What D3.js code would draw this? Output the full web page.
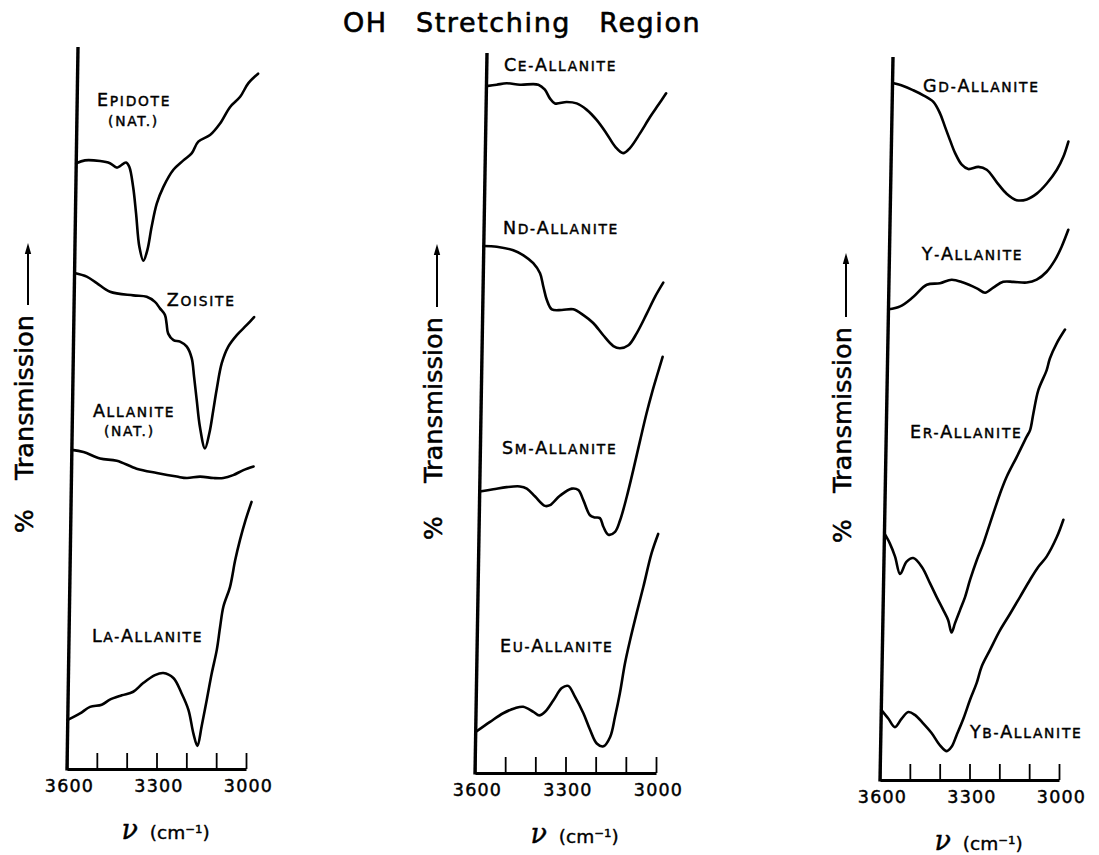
<!DOCTYPE html>
<html>
<head>
<meta charset="utf-8">
<script src="https://cdn.jsdelivr.net/npm/d3@7"></script>
<style>
  html, body { margin: 0; padding: 0; background: #fff; }
  svg { display: block; }
  text { font-family: "DejaVu Sans", sans-serif; fill: #000; }
</style>
</head>
<body>
<svg id="chart" width="1099" height="855"></svg>
<script>
// ---------------------------------------------------------------
// Wavenumber axis (cm-1)
const wavenumberTicks = [3600, 3500, 3400, 3300, 3200, 3100, 3000];
const labelledTicks = [3600, 3300, 3000];
const titleText = "OH Stretching Region";
const yAxisWord = "Transmission";
const xAxisUnit = "(cm\u207B\u00B9)";

// IR spectra: [wavenumber (cm-1), relative % transmission, offset trace]
const epidote = [[3600,83.9],[3571,84.3],[3520,84.2],[3487,83.9],[3464,83.3],[3453,83.5],[3433,84.0],[3422,83.4],[3408,80.6],[3397,77.0],[3384,72.3],[3370,70.4],[3357,71.9],[3344,75.1],[3328,78.3],[3307,80.6],[3274,83.0],[3241,84.3],[3213,85.3],[3192,86.9],[3153,87.8],[3120,89.4],[3087,91.7],[3054,93.1],[3027,95.0],[2995,96.3]];
const zoisite = [[3600,68.7],[3559,68.2],[3525,67.3],[3480,66.1],[3402,65.6],[3357,65.4],[3329,64.7],[3312,63.8],[3295,62.9],[3289,61.7],[3283,60.3],[3265,59.4],[3243,59.2],[3220,58.5],[3203,56.9],[3194,54.3],[3184,51.1],[3172,47.4],[3154,44.4],[3140,46.5],[3128,49.7],[3118,52.5],[3102,56.2],[3081,58.5],[3053,60.1],[3020,61.5],[2996,62.6]];
const allaniteNat = [[3600,44.2],[3561,43.9],[3505,43.0],[3449,42.7],[3382,41.6],[3314,41.0],[3247,40.5],[3213,40.3],[3169,40.5],[3124,40.3],[3091,40.3],[3058,40.7],[3024,41.4],[2990,41.9]];
const laAllanite = [[3600,6.8],[3559,7.7],[3526,8.6],[3487,8.9],[3460,9.6],[3420,10.2],[3382,10.7],[3349,11.9],[3310,13.0],[3282,13.3],[3248,12.6],[3220,10.5],[3196,8.2],[3178,4.9],[3164,3.2],[3151,5.9],[3135,9.6],[3120,13.2],[3104,16.5],[3094,19.7],[3084,22.5],[3063,25.2],[3047,28.9],[3032,31.7],[3014,34.5],[2995,37.0]];

const ceAllanite = [[3600,95.4],[3566,95.6],[3533,95.8],[3489,95.6],[3428,95.6],[3406,94.9],[3389,93.7],[3372,93.0],[3333,93.2],[3300,93.0],[3266,92.1],[3233,90.7],[3199,88.8],[3170,87.0],[3143,86.1],[3121,86.8],[3089,88.8],[3056,91.1],[3029,92.8],[3004,94.4]];
const ndAllanite = [[3600,73.2],[3557,73.1],[3502,72.6],[3468,71.9],[3435,70.8],[3412,69.4],[3400,67.5],[3388,65.7],[3371,64.4],[3338,64.3],[3300,64.4],[3266,63.6],[3233,62.5],[3199,60.8],[3165,59.3],[3143,59.0],[3115,59.4],[3088,61.1],[3056,63.8],[3030,66.1],[3003,68.1]];
const smAllanite = [[3600,39.1],[3555,39.4],[3511,39.7],[3467,39.8],[3444,39.5],[3416,38.4],[3383,37.1],[3366,37.2],[3334,38.5],[3295,39.5],[3273,39.3],[3256,37.9],[3233,35.8],[3217,35.5],[3200,35.4],[3188,34.2],[3171,33.1],[3149,33.5],[3133,35.1],[3112,38.4],[3092,42.1],[3071,46.2],[3051,50.0],[3035,52.7],[3020,55.0],[3001,57.8]];
const euAllanite = [[3600,5.7],[3553,7.1],[3510,8.3],[3471,9.0],[3444,9.2],[3410,8.5],[3390,8.0],[3371,8.5],[3344,10.1],[3317,11.8],[3296,12.1],[3273,10.6],[3244,8.3],[3221,6.0],[3198,4.1],[3176,3.7],[3154,5.0],[3139,7.8],[3124,11.1],[3109,15.2],[3093,18.5],[3073,22.2],[3052,25.9],[3027,30.5],[3006,33.2]];

const gdAllanite = [[3600,96.4],[3564,96.0],[3530,95.4],[3496,94.7],[3462,93.8],[3439,92.2],[3422,90.4],[3404,88.5],[3386,86.7],[3363,85.1],[3341,84.5],[3307,84.8],[3279,84.4],[3245,82.7],[3211,81.1],[3177,80.2],[3143,80.3],[3110,81.1],[3077,82.5],[3044,84.4],[3023,86.2],[3007,88.3]];
const yAllanite = [[3600,65.1],[3561,65.5],[3518,66.8],[3473,68.5],[3429,68.7],[3390,69.2],[3351,68.8],[3305,68.0],[3277,67.4],[3250,68.1],[3217,68.9],[3183,68.9],[3138,68.8],[3105,69.2],[3072,70.3],[3045,71.9],[3023,73.8],[3002,76.1]];
const erAllanite = [[3600,34.1],[3581,32.7],[3563,30.9],[3545,28.5],[3524,30.2],[3502,30.7],[3473,29.5],[3444,27.2],[3421,25.3],[3398,23.5],[3381,22.1],[3369,20.4],[3358,21.7],[3342,23.5],[3326,25.3],[3310,27.7],[3289,30.4],[3268,32.7],[3252,34.8],[3236,36.9],[3215,39.6],[3194,41.9],[3161,44.7],[3129,47.5],[3118,48.4],[3108,50.7],[3093,53.9],[3066,56.7],[3056,58.3],[3034,60.4],[3007,62.3]];
const ybAllanite = [[3600,9.7],[3576,8.5],[3553,7.3],[3531,8.5],[3509,9.4],[3487,9.0],[3458,7.8],[3430,6.5],[3401,4.8],[3378,4.0],[3362,4.6],[3346,6.2],[3324,8.5],[3303,11.1],[3282,13.4],[3266,15.7],[3239,18.0],[3207,20.7],[3174,23.0],[3142,25.3],[3109,27.7],[3082,29.5],[3055,30.9],[3022,33.6],[3001,36.0]];

// Series grouped per panel, with their names and label anchors [cm-1, %T]
const leftSeries = [epidote, zoisite, allaniteNat, laAllanite];
const leftNames = [["Epidote", "(nat.)"], ["Zoisite"], ["Allanite", "(nat.)"], ["La-Allanite"]];
const leftLabelAt = [[3533, 91.8], [3289, 64.1], [3531, 48.8], [3523, 17.6]];

const middleSeries = [ceAllanite, ndAllanite, smAllanite, euAllanite];
const middleNames = [["Ce-Allanite"], ["Nd-Allanite"], ["Sm-Allanite"], ["Eu-Allanite"]];
const middleLabelAt = [[3543, 97.5], [3537, 74.9], [3528, 44.3], [3524, 16.8]];

const rightSeries = [gdAllanite, yAllanite, erAllanite, ybAllanite];
const rightNames = [["Gd-Allanite"], ["Y-Allanite"], ["Er-Allanite"], ["Yb-Allanite"]];
const rightLabelAt = [[3497, 95.2], [3491, 71.9], [3520, 47.3], [3301, 5.8]];

// ---------------------------------------------------------------
// Panel layout (pixels). The ordinate line of each hand-drawn panel leans
// slightly to the right; `lean` is that horizontal drift from bottom to top.
const panels = [
  { x0: 67,  x1: 246,  yBottom: 769, yTop: 47, lean: 11,
    series: leftSeries, names: leftNames, labelAt: leftLabelAt,
    yLab: { base: 33, pct: 533, word: 480, wordEnd: 315, arrowFrom: 305, arrowTo: 243 } },
  { x0: 475, x1: 656,  yBottom: 773, yTop: 53, lean: 12,
    series: middleSeries, names: middleNames, labelAt: middleLabelAt,
    yLab: { base: 442, pct: 540, word: 483, wordEnd: 317, arrowFrom: 307, arrowTo: 244 } },
  { x0: 880, x1: 1059, yBottom: 780, yTop: 57, lean: 13,
    series: rightSeries, names: rightNames, labelAt: rightLabelAt,
    yLab: { base: 851, pct: 543, word: 493, wordEnd: 327, arrowFrom: 317, arrowTo: 253 } }
];

const svg = d3.select("#chart");
svg.append("rect").attr("width", 1099).attr("height", 855).attr("fill", "#fff");

// Lettering is drawn a little heavier than the regular face, like stencil ink
const ink = (sel, w) => sel.attr("stroke", "#000").attr("stroke-width", w).attr("stroke-linejoin", "round");

// Title
ink(svg.append("text")
  .attr("x", 343).attr("y", 32)
  .attr("font-size", 27)
  .style("letter-spacing", "1.6px")
  .style("word-spacing", "18px")
  .text(titleText), 0.6);

// Label in small capitals: capitals stay full size, the rest shrink
function smallCaps(textSel, str, big, small) {
  const runs = [];
  for (const ch of str) {
    const isBig = /[A-Z]/.test(ch);
    const last = runs[runs.length - 1];
    if (last && last.big === isBig) last.s += ch;
    else runs.push({ big: isBig, s: ch });
  }
  textSel.selectAll("tspan").data(runs).join("tspan")
    .attr("font-size", d => d.big ? big : small)
    .text(d => d.s.toUpperCase());
}

panels.forEach(p => {
  const x = d3.scaleLinear().domain([3600, 3000]).range([p.x0, p.x1]);
  const y = d3.scaleLinear().domain([0, 100]).range([p.yBottom, p.yTop]);
  const skew = p.lean / (p.yBottom - p.yTop);
  const px = (nu, t) => x(nu) + skew * (p.yBottom - y(t));

  const g = svg.append("g");

  // Spectra
  const line = d3.line()
    .x(d => px(d[0], d[1]))
    .y(d => y(d[1]))
    .curve(d3.curveCatmullRom.alpha(0.5));

  g.selectAll("path.spectrum").data(p.series).join("path")
    .attr("class", "spectrum")
    .attr("d", line)
    .attr("fill", "none")
    .attr("stroke", "#000")
    .attr("stroke-width", 2.6)
    .attr("stroke-linejoin", "round")
    .attr("stroke-linecap", "round");

  // Sample names
  p.names.forEach((lines, i) => {
    const [nu, t] = p.labelAt[i];
    lines.forEach((str, j) => {
      const txt = g.append("text")
        .attr("x", px(nu, t) + (j ? 11 : 0))
        .attr("y", y(t) + j * 19.5)
        .style("letter-spacing", "1.7px");
      ink(txt, 0.45);
      smallCaps(txt, str, 17.5, 13.8);
    });
  });

  // Ordinate line (leaning)
  g.append("line")
    .attr("x1", px(3600, 0)).attr("y1", y(0) + 1.5)
    .attr("x2", px(3600, 100)).attr("y2", y(100))
    .attr("stroke", "#000").attr("stroke-width", 3.4);

  // Wavenumber axis with ticks pointing up
  const axis = d3.axisBottom(x)
    .tickValues(wavenumberTicks)
    .tickSizeInner(-16)
    .tickSizeOuter(0)
    .tickPadding(11)
    .tickFormat(d => labelledTicks.includes(d) ? String(d) : "");

  const ax = g.append("g")
    .attr("transform", `translate(0,${p.yBottom})`)
    .call(axis);
  ax.select(".domain").attr("stroke", "#000").attr("stroke-width", 3.2);
  ax.selectAll(".tick line").attr("stroke", "#000").attr("stroke-width", 1.8);
  ink(ax.selectAll(".tick text")
    .attr("fill", "#000")
    .attr("font-family", "\"DejaVu Sans\", sans-serif")
    .attr("font-size", 17.5)
    .attr("dx", 2)
    .style("letter-spacing", "1.2px"), 0.45);

  // ν (cm-1) caption
  const mid = (p.x0 + p.x1) / 2 + 9;
  const cap = g.append("text")
    .attr("x", mid).attr("y", p.yBottom + 70)
    .attr("text-anchor", "middle");
  ink(cap, 0.4);
  cap.append("tspan")
    .attr("font-family", "\"DejaVu Serif\", serif")
    .attr("font-style", "italic")
    .attr("font-size", 27)
    .text("\u03BD");
  cap.append("tspan")
    .attr("font-size", 18.5)
    .attr("dx", 12)
    .text(xAxisUnit);

  // "% Transmission →" ordinate caption, reading upward
  const L = p.yLab;
  const yl = g.append("g").attr("transform", `translate(${L.base},${L.pct}) rotate(-90)`);
  ink(yl.append("text")
    .attr("x", 0).attr("y", 0)
    .attr("font-size", 25)
    .text("%"), 0.5);
  ink(yl.append("text")
    .attr("x", L.pct - L.word).attr("y", 0)
    .attr("font-size", 25)
    .attr("textLength", L.word - L.wordEnd)
    .attr("lengthAdjust", "spacingAndGlyphs")
    .text(yAxisWord), 0.5);
  const a0 = L.pct - L.arrowFrom, a1 = L.pct - L.arrowTo;
  yl.append("line")
    .attr("x1", a0).attr("y1", -5)
    .attr("x2", a1 - 8).attr("y2", -5)
    .attr("stroke", "#000").attr("stroke-width", 2);
  yl.append("path")
    .attr("d", `M${a1},-5 L${a1 - 11},-8.2 L${a1 - 11},-1.8 Z`)
    .attr("fill", "#000");
});
</script>
</body>
</html>
